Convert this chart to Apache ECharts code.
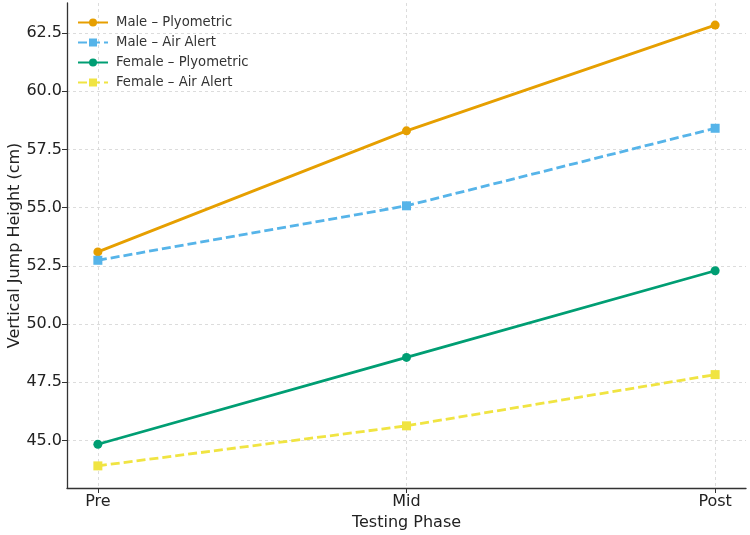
<!DOCTYPE html>
<html>
<head>
<meta charset="utf-8">
<script src="https://cdn.jsdelivr.net/npm/echarts@6/dist/echarts.min.js"></script>
<style>
  html, body { margin: 0; padding: 0; background: #fff; }
  #chart { width: 750px; height: 535px; }
</style>
</head>
<body>
<div id="chart"></div>
<script>
const phases = ['Pre', 'Mid', 'Post'];
const malePlyo = [53.10, 58.30, 62.84];
const maleAir = [52.74, 55.08, 58.41];
const femalePlyo = [44.84, 48.57, 52.29];
const femaleAir = [43.91, 45.63, 47.83];
const yTicks = [45, 47.5, 50, 52.5, 55, 57.5, 60, 62.5];

const font = 'DejaVu Sans';

function pts(vals) {
  return vals.map((v, i) => [i, v]);
}

function mk(name, vals, color, symbol, dashed) {
  return {
    name: name,
    type: 'line',
    data: pts(vals),
    symbol: symbol,
    symbolSize: 9,
    showSymbol: true,
    lineStyle: { color: color, width: 2.8, type: dashed ? [9, 4] : 'solid' },
    itemStyle: { color: color },
    emphasis: { disabled: true }
  };
}

const chart = echarts.init(document.getElementById('chart'));
chart.setOption({
  animation: false,
  backgroundColor: '#fff',
  grid: { left: 67, right: 4, top: 3, bottom: 47, outerBoundsMode: 'none', containLabel: false },
  legend: {
    left: 72, top: 11,
    orient: 'vertical',
    itemWidth: 30, itemHeight: 10, itemGap: 7,
    textStyle: { fontFamily: font, fontSize: 13.2, color: '#333', padding: [0, 0, 0, 3] },
    data: ['Male – Plyometric', 'Male – Air Alert', 'Female – Plyometric', 'Female – Air Alert']
  },
  xAxis: {
    type: 'value',
    min: -0.1, max: 2.1,
    name: 'Testing Phase',
    nameLocation: 'middle',
    nameGap: 27,
    nameMoveOverlap: false,
    nameTextStyle: { fontFamily: font, fontSize: 16, color: '#222', verticalAlign: 'top' },
    axisLine: { show: true, onZero: false, lineStyle: { color: '#333', width: 1.3 } },
    axisTick: { show: true, length: 5, customValues: [0, 1, 2], lineStyle: { color: '#333' } },
    axisLabel: {
      customValues: [0, 1, 2],
      formatter: v => phases[Math.round(v)],
      fontFamily: font, fontSize: 16, color: '#222', margin: 6
    },
    splitLine: { show: true, lineStyle: { color: '#d8d8d8', type: [3, 3], width: 0.9 } }
  },
  yAxis: {
    type: 'value',
    min: 42.96, max: 63.79,
    name: 'Vertical Jump Height (cm)',
    nameLocation: 'middle',
    nameGap: 44,
    nameMoveOverlap: false,
    nameTextStyle: { fontFamily: font, fontSize: 16, color: '#222' },
    axisLine: { show: true, onZero: false, lineStyle: { color: '#333', width: 1.3 } },
    axisTick: { show: true, length: 5, customValues: yTicks, lineStyle: { color: '#333' } },
    axisLabel: {
      customValues: yTicks,
      formatter: v => v.toFixed(1),
      fontFamily: font, fontSize: 16, color: '#222', margin: 5
    },
    splitLine: { show: true, lineStyle: { color: '#d8d8d8', type: [3, 3], width: 0.9 } }
  },
  series: [
    mk('Male – Plyometric', malePlyo, '#E69F00', 'circle', false),
    mk('Male – Air Alert', maleAir, '#56B4E9', 'rect', true),
    mk('Female – Plyometric', femalePlyo, '#009E73', 'circle', false),
    mk('Female – Air Alert', femaleAir, '#F0E442', 'rect', true)
  ]
});
</script>
</body>
</html>
